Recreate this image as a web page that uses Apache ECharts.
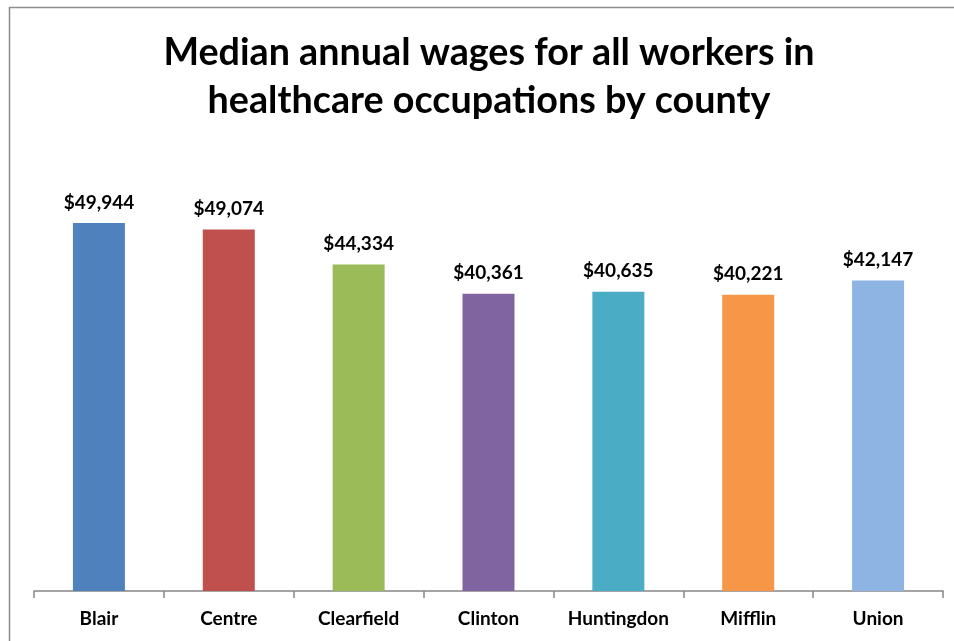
<!DOCTYPE html>
<html>
<head>
<meta charset="utf-8">
<script src="https://cdn.jsdelivr.net/npm/echarts@6/dist/echarts.min.js"></script>
<style>
    html, body { margin: 0; padding: 0; background: #fff; }
    #chart { width: 954px; height: 641px; }
</style>
</head>
<body>
<div id="chart"></div>
<script>
const counties = ['Blair', 'Centre', 'Clearfield', 'Clinton', 'Huntingdon', 'Mifflin', 'Union'];
const wages = [49944, 49074, 44334, 40361, 40635, 40221, 42147];
const barColors = ['#4F81BD', '#C0504D', '#9BBB59', '#8064A2', '#4BACC6', '#F79646', '#8EB4E3'];

const fontFamily = 'Lato, "Open Sans", sans-serif';

const init = () => {
    const myChart = echarts.init(document.getElementById('chart'));
    let option = {
        animation: false,
        title: {
            text: 'Median annual wages for all workers in\nhealthcare occupations by county',
            left: 484,
            top: 24,
            textAlign: 'center',
            textStyle: {
                fontFamily: fontFamily,
                fontWeight: 'bold',
                fontSize: 37.7,
                lineHeight: 48,
                color: '#000'
            }
        },
        graphic: [
            {
                type: 'rect',
                shape: { x: 9.5, y: 7.5, width: 1000, height: 700 },
                style: { fill: 'none', stroke: '#8c8c8c', lineWidth: 1.5 },
                silent: true
            }
        ],
        grid: {
            left: 34,
            right: 11,
            top: 149,
            bottom: 50
        },
        xAxis: {
            type: 'category',
            data: counties,
            axisLine: { lineStyle: { color: '#868686', width: 1.5 } },
            axisTick: { show: true, interval: 0, length: 7, lineStyle: { color: '#868686', width: 1.5 } },
            axisLabel: {
                interval: 0,
                margin: 18,
                fontFamily: fontFamily,
                fontWeight: 'bold',
                fontSize: 19,
                color: '#000'
            }
        },
        yAxis: {
            type: 'value',
            min: 0,
            max: 60000,
            show: false
        },
        series: [
            {
                type: 'bar',
                data: wages.map((v, i) => ({ value: v, itemStyle: { color: barColors[i] } })),
                barWidth: 52,
                label: {
                    show: true,
                    position: 'top',
                    distance: 11,
                    fontFamily: fontFamily,
                    fontWeight: 'bold',
                    fontSize: 19,
                    color: '#000',
                    formatter: (p) => '$' + p.value.toLocaleString('en-US')
                }
            }
        ]
    };
    myChart.setOption(option);
    window.addEventListener('resize', () => {
        myChart.resize();
    });
};
init();
</script>
</body>
</html>
